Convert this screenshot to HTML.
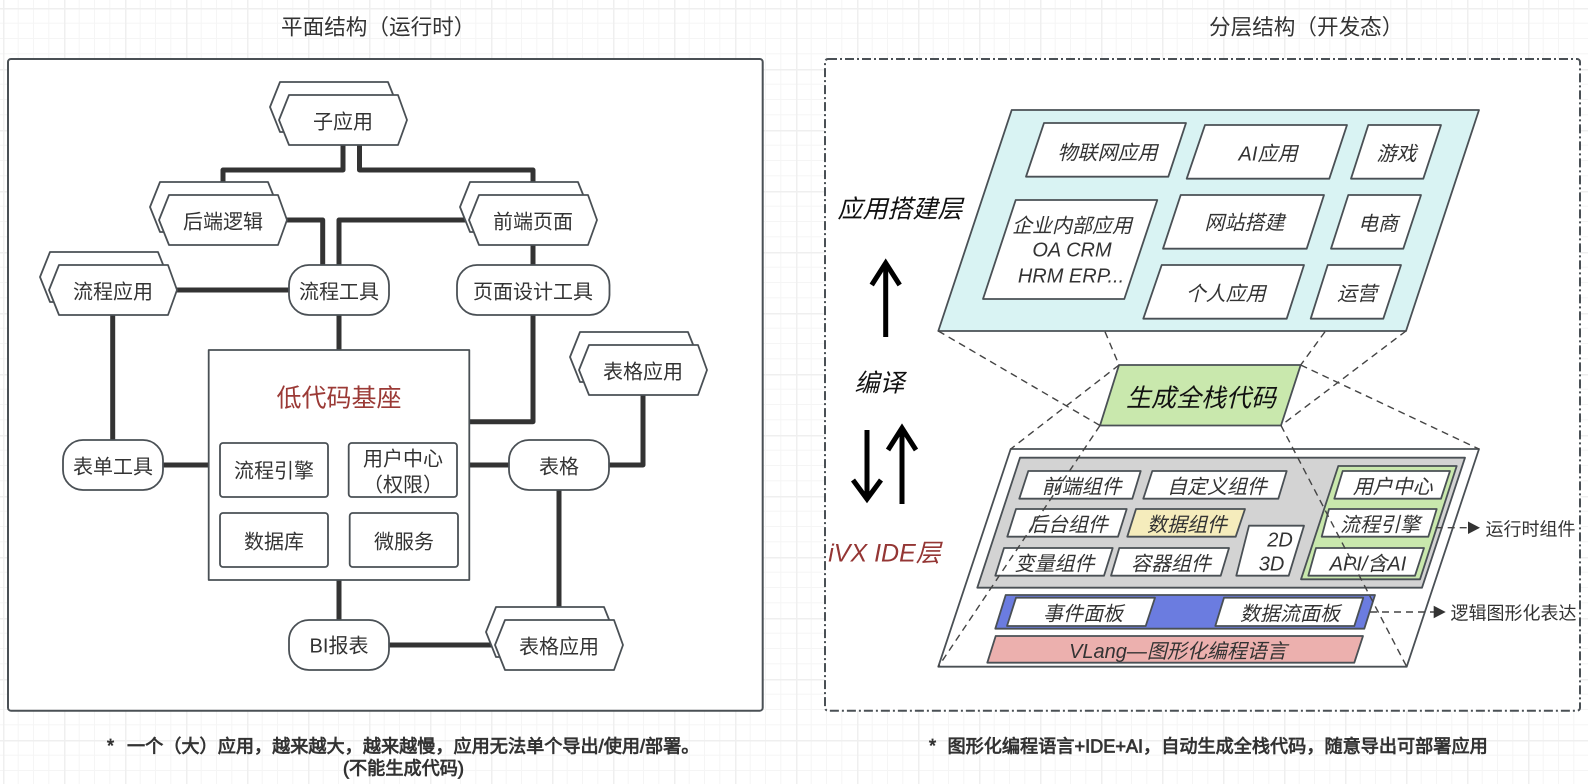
<!DOCTYPE html>
<html><head><meta charset="utf-8"><style>
html,body{margin:0;padding:0;background:#fff}
svg{display:block}
text{font-family:"Liberation Sans","Noto Sans CJK SC","WenQuanYi Zen Hei",sans-serif;fill:#333;font-size:20px;text-anchor:middle;dominant-baseline:central;transform:translateY(1.5px)}
.it text{font-style:italic}
.s polygon,.s rect,#hex polygon{stroke:#4a5055;stroke-width:1.8;fill:#fff;stroke-linejoin:round}
.c path{fill:none;stroke:#333;stroke-width:5;stroke-linejoin:round}
.d path{fill:none;stroke:#444;stroke-width:1.4;stroke-dasharray:7 5}
.a path{fill:none;stroke:#000;stroke-width:5}
text.n{font-size:18.15px;text-anchor:start;fill:#333;stroke:#333;stroke-width:.75px;transform:none}
text.t{font-size:21.6px;text-anchor:start;transform:none}
</style></head><body>
<svg width="1588" height="784" viewBox="0 0 1588 784" xmlns="http://www.w3.org/2000/svg">
<defs>
<pattern id="g" patternUnits="userSpaceOnUse" x="3" y="8" width="61" height="61">
<path d="M15.25 0V61M30.5 0V61M45.75 0V61M0 15.25H61M0 30.5H61M0 45.75H61" stroke="#f5f5f5" stroke-width="1" fill="none"/>
<path d="M0.5 0V61M0 0.5H61" stroke="#efefef" stroke-width="2" fill="none"/>
</pattern>
<g id="hex"><polygon points="-9,12 1,-13 109,-13 119,12 109,37 1,37" fill="#fff" stroke="#4a5055" stroke-width="1.8"/><polygon points="0,25 10,0 119,0 128,25 119,50 10,50" fill="#fff" stroke="#4a5055" stroke-width="1.8"/></g>
</defs>
<rect width="1588" height="784" fill="url(#g)"/>

<text class="t" x="281" y="27">平面结构（运行时）</text>
<text class="t" x="1209" y="27">分层结构（开发态）</text>

<rect x="8" y="59" width="754.7" height="651.7" rx="3" fill="#fff" stroke="#4a5055" stroke-width="2"/>
<rect x="825" y="59" width="755" height="651.7" rx="3" fill="#fff" stroke="#4a5055" stroke-width="2" stroke-dasharray="9 3 2 3"/>

<!-- connectors -->
<g class="c">
<path d="M343 145V170H223V197"/>
<path d="M359.500 145V170H533V197"/>
<path d="M286 220H322.700V265"/>
<path d="M469 220H339V265"/>
<path d="M533 245V265"/>
<path d="M533 315V421.700H469"/>
<path d="M177 290H289"/>
<path d="M339 315V350"/>
<path d="M112.700 315V440"/>
<path d="M163 465H209"/>
<path d="M469 465H509"/>
<path d="M609 465H643V395"/>
<path d="M559 490V622"/>
<path d="M339 580V620"/>
<path d="M389 645H495"/>
</g>

<!-- hexagons -->
<g class="s">
<use href="#hex" x="279" y="95"/>
<use href="#hex" x="159" y="195"/>
<use href="#hex" x="469" y="195"/>
<use href="#hex" x="49" y="265"/>
<use href="#hex" x="579" y="345"/>
<use href="#hex" x="495" y="620"/>
<rect x="289" y="265" width="100" height="50" rx="20"/>
<rect x="457" y="265" width="152.500" height="50" rx="20"/>
<rect x="63" y="440" width="100" height="50" rx="20"/>
<rect x="509" y="440" width="100" height="50" rx="20"/>
<rect x="289" y="620" width="100" height="50" rx="20"/>
<rect x="208.700" y="350" width="260.600" height="230"/>
<rect x="220" y="443" width="108" height="54" rx="3"/>
<rect x="220" y="513" width="108" height="54" rx="3"/>
<rect x="348.700" y="443" width="108.300" height="54" rx="3"/>
<rect x="349.700" y="513" width="108.300" height="54" rx="3"/>
</g>

<text x="343" y="121">子应用</text>
<text x="223" y="221">后端逻辑</text>
<text x="533" y="221">前端页面</text>
<text x="113" y="291">流程应用</text>
<text x="643" y="371">表格应用</text>
<text x="559" y="646">表格应用</text>
<text x="339" y="291">流程工具</text>
<text x="533" y="291">页面设计工具</text>
<text x="113" y="466">表单工具</text>
<text x="559" y="466">表格</text>
<text x="339" y="645">BI报表</text>
<text x="339" y="397" style="font-size:25px;fill:#9b3a36">低代码基座</text>
<text x="274" y="470">流程引擎</text>
<text x="274" y="541">数据库</text>
<text x="403" y="458">用户中心</text>
<text x="403" y="484">（权限）</text>
<text x="404" y="541">微服务</text>

<!-- right panel: top layer -->
<g class="s">
<polygon points="1011.700,110 1479,110 1406,331 938.300,331" style="fill:#d9f3f3"/>
<polygon points="1044,123 1186,123 1168.300,176.700 1026,176.700"/>
<polygon points="1205,125 1347,125 1329.300,178.700 1186.700,178.700"/>
<polygon points="1368.300,125 1441,125 1423.300,178.700 1351,178.700"/>
<polygon points="1015.700,200 1157.300,200 1124.300,299 983,299"/>
<polygon points="1180.700,195 1324,195 1306.700,248.700 1163,248.700"/>
<polygon points="1348.300,195 1421,195 1403.300,248.700 1331,248.700"/>
<polygon points="1161.700,265 1304,265 1286.700,318.700 1143.300,318.700"/>
<polygon points="1327.700,265 1401,265 1383.300,318.700 1310.700,318.700"/>
<polygon points="1119,365 1300.700,365 1281,425.500 1100,425.500" style="fill:#c9e8ad"/>
<polygon points="1010.700,449 1479,449 1406.700,666.700 938.300,666.700"/>
<polygon points="1020,457.700 1465,457.700 1422,587.700 977.300,587.700" style="fill:#d3d3d3"/>
<polygon points="1028.300,471 1140.700,471 1132.300,498.700 1019.300,498.700"/>
<polygon points="1152.300,471 1286.700,471 1278.300,498.700 1143.300,498.700"/>
<polygon points="1016,509 1126.700,509 1118,536.700 1007.300,536.700"/>
<polygon points="1136,509 1245,509 1235.700,536.700 1127.300,536.700" style="fill:#f5ecbc"/>
<polygon points="1004,548 1112.700,548 1104,575.700 995.300,575.700"/>
<polygon points="1119.300,548 1229,548 1220.700,575.700 1111,575.700"/>
<polygon points="1249,525.700 1304,525.700 1288.700,575.700 1236.300,575.700"/>
<polygon points="1338.300,466 1456.700,466 1420,579.300 1301,579.300" style="fill:#c9e8ad"/>
<polygon points="1342.700,471 1450,471 1441,498.700 1334.300,498.700"/>
<polygon points="1329,509 1436.700,509 1428.300,536.700 1321.700,536.700"/>
<polygon points="1316,548 1424,548 1415,575.700 1308.300,575.700"/>
<polygon points="1005.700,595 1375,595 1364.300,628.700 995.300,628.700" style="fill:#6b7ce0"/>
<polygon points="1016,597.700 1155,597.700 1145.700,626 1007,626"/>
<polygon points="1224,597.700 1363.300,597.700 1354.300,626 1215.300,626"/>
<polygon points="995.700,636 1363,636 1354.300,662.700 987.300,662.700" style="fill:#ecb0ae"/>
</g>

<g class="it">
<text x="1107.500" y="152">物联网应用</text>
<text x="1268" y="153">AI应用</text>
<text x="1396.500" y="153">游戏</text>
<text x="1072" y="225">企业内部应用</text>
<text x="1072" y="249">OA CRM</text>
<text x="1071" y="275">HRM ERP...</text>
<text x="1244.500" y="222">网站搭建</text>
<text x="1378" y="223">电商</text>
<text x="1225.700" y="293">个人应用</text>
<text x="1357" y="293">运营</text>
<text x="1201" y="397" style="font-size:25px;fill:#111">生成全栈代码</text>
<text x="1081.700" y="486">前端组件</text>
<text x="1217" y="486">自定义组件</text>
<text x="1068" y="524">后台组件</text>
<text x="1187" y="524">数据组件</text>
<text x="1054.500" y="563">变量组件</text>
<text x="1171" y="563">容器组件</text>
<text x="1280" y="539">2D</text>
<text x="1271.500" y="563">3D</text>
<text x="1392.700" y="486">用户中心</text>
<text x="1380" y="524">流程引擎</text>
<text x="1368" y="563">API/含AI</text>
<text x="1083" y="613">事件面板</text>
<text x="1290" y="613">数据流面板</text>
<text x="1178" y="650.700">VLang—图形化编程语言</text>
<text x="900" y="208" style="font-size:25px;fill:#111">应用搭建层</text>
<text x="879.500" y="382" style="font-size:25px;fill:#111">编译</text>
<text x="884.500" y="552" style="font-size:25px;fill:#943634">iVX IDE层</text>
</g>

<!-- dashed pyramid lines -->
<g class="d">
<path d="M938.300 331L1100 425.500"/>
<path d="M1105 331.700L1119 365"/>
<path d="M1406 331L1281 425.500"/>
<path d="M1325 331.700L1300.700 365"/>
<path d="M1119 365L1010.700 449"/>
<path d="M1100 425.500L938.300 666.700"/>
<path d="M1300.700 365L1479 449"/>
<path d="M1281 425.500L1406.700 666.700"/>
<path d="M1435.700 527.700H1470"/>
<path d="M1370 612H1436"/>
</g>
<polygon points="1468,521.500 1480,527.700 1468,534" fill="#333"/>
<polygon points="1433.700,605.800 1445.700,612 1433.700,618.200" fill="#333"/>
<text x="1530.500" y="528" style="font-size:18px">运行时组件</text>
<text x="1513.500" y="612" style="font-size:18px">逻辑图形化表达</text>

<!-- black arrows -->
<g class="a">
<path d="M885.700 337V263"/><path d="M871.700 285L885.700 263L899.700 285"/>
<path d="M902 504V428"/><path d="M888 450L902 428L916 450"/>
<path d="M867 430V499"/><path d="M853 480L867 499L881 480"/>
</g>

<text class="n" x="107" y="746">*</text>
<text class="n" x="127" y="746.500">一个（大）应用，越来越大，越来越慢，应用无法单个导出/使用/部署。</text>
<text class="n" x="343" y="768.500">(不能生成代码)</text>
<text class="n" x="929" y="746">*</text>
<text class="n" x="947.500" y="746.500">图形化编程语言+IDE+AI，自动生成全栈代码，随意导出可部署应用</text>
</svg>
</body></html>
